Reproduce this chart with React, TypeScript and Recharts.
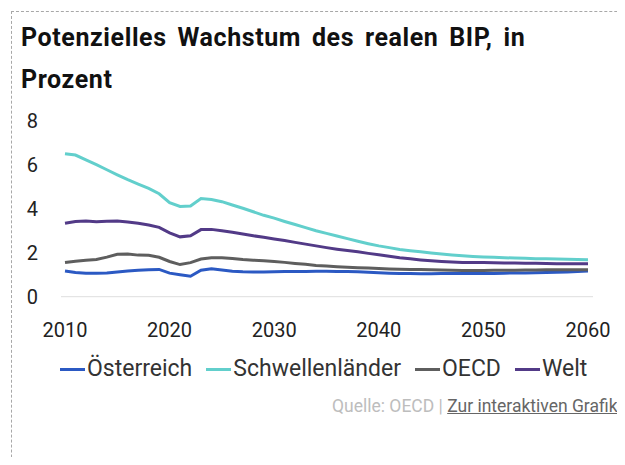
import { LineChart, Line, XAxis, YAxis } from "recharts";

const years = [
  2010, 2011, 2012, 2013, 2014, 2015, 2016, 2017, 2018, 2019,
  2020, 2021, 2022, 2023, 2024, 2025, 2026, 2027, 2028, 2029,
  2030, 2031, 2032, 2033, 2034, 2035, 2036, 2037, 2038, 2039,
  2040, 2041, 2042, 2043, 2044, 2045, 2046, 2047, 2048, 2049,
  2050, 2051, 2052, 2053, 2054, 2055, 2056, 2057, 2058, 2059, 2060,
];

const oesterreich = [
  1.17, 1.1, 1.07, 1.07, 1.08, 1.12, 1.17, 1.2, 1.22, 1.24,
  1.07, 1.0, 0.93, 1.2, 1.27, 1.21, 1.16, 1.13, 1.12, 1.12,
  1.13, 1.14, 1.14, 1.15, 1.16, 1.16, 1.15, 1.14, 1.13, 1.11,
  1.09, 1.07, 1.06, 1.05, 1.04, 1.04, 1.05, 1.06, 1.06, 1.06,
  1.06, 1.06, 1.07, 1.08, 1.08, 1.09, 1.1, 1.11, 1.12, 1.15, 1.17,
];

const schwellenlaender = [
  6.5, 6.44, 6.22, 6.0, 5.77, 5.54, 5.32, 5.12, 4.92, 4.68,
  4.27, 4.1, 4.12, 4.46, 4.42, 4.32, 4.17, 4.02, 3.86, 3.7,
  3.57, 3.42, 3.28, 3.14, 3.0, 2.88, 2.76, 2.64, 2.52, 2.41,
  2.31, 2.23, 2.15, 2.09, 2.04, 1.99, 1.94, 1.9, 1.86, 1.83,
  1.81, 1.79, 1.77, 1.76, 1.75, 1.73, 1.72, 1.71, 1.7, 1.69, 1.68,
];

const oecd = [
  1.55, 1.61, 1.66, 1.69, 1.8, 1.93, 1.94, 1.89, 1.88, 1.79,
  1.6, 1.46, 1.55, 1.71, 1.77, 1.77, 1.74, 1.69, 1.66, 1.63,
  1.6, 1.56, 1.51, 1.47, 1.42, 1.39, 1.36, 1.34, 1.32, 1.3,
  1.28, 1.26, 1.25, 1.24, 1.24, 1.23, 1.21, 1.2, 1.19, 1.19,
  1.19, 1.2, 1.2, 1.2, 1.21, 1.21, 1.22, 1.22, 1.23, 1.23, 1.23,
];

const welt = [
  3.34, 3.42, 3.44, 3.41, 3.43, 3.44, 3.4, 3.34, 3.26, 3.15,
  2.9, 2.72, 2.77, 3.05, 3.06, 3.0, 2.93, 2.85, 2.77, 2.7,
  2.62, 2.55, 2.47, 2.39, 2.31, 2.23, 2.16, 2.1, 2.04, 1.97,
  1.91, 1.84, 1.77, 1.72, 1.67, 1.63, 1.6, 1.58, 1.56, 1.55,
  1.55, 1.54, 1.53, 1.53, 1.52, 1.52, 1.51, 1.5, 1.5, 1.5, 1.5,
];

const xTicks = [2010, 2020, 2030, 2040, 2050, 2060];
const yTicks = [0, 2, 4, 6, 8];

const series = [
  { key: "oesterreich", name: "Österreich", color: "#2b59c3" },
  { key: "schwellen", name: "Schwellenländer", color: "#62cfcc" },
  { key: "oecd", name: "OECD", color: "#5e5e5e" },
  { key: "welt", name: "Welt", color: "#523a87" },
];

const data = years.map((year, i) => ({
  year,
  oesterreich: oesterreich[i],
  schwellen: schwellenlaender[i],
  oecd: oecd[i],
  welt: welt[i],
}));

const font = "Roboto, 'DejaVu Sans', sans-serif";

export default function App() {
  return (
    <div style={{ position: "relative", width: 625, height: 465, margin: -8, overflow: "hidden", background: "#fff", fontFamily: font }}>
      <div
        style={{
          position: "absolute",
          left: 11,
          top: 11,
          width: 700,
          height: 600,
          borderTop: "1px dashed #a8a8a8",
          borderLeft: "1px dashed #a8a8a8",
        }}
      />
      <div
        style={{
          position: "absolute",
          left: 21,
          top: 17,
          fontSize: 25,
          lineHeight: "41.6px",
          fontWeight: 700,
          letterSpacing: 0.6,
          wordSpacing: 4,
          color: "#111",
          whiteSpace: "nowrap",
        }}
      >
        Potenzielles Wachstum des realen BIP, in
        <br />
        Prozent
      </div>

      <div style={{ position: "absolute", left: 0, top: 0 }}>
        <LineChart width={625} height={465} data={data} margin={{ top: 120.7, right: 32, left: 0, bottom: 128.3 }}>
          <XAxis
            dataKey="year"
            type="number"
            domain={[2010, 2060]}
            ticks={xTicks}
            padding={{ left: 4, right: 5 }}
            height={40}
            axisLine={{ stroke: "#dedede", strokeWidth: 1 }}
            tickLine={false}
            tickSize={0}
            tickMargin={26}
            tick={{ fill: "#222", fontSize: 20, fontFamily: font }}
          />
          <YAxis
            domain={[0, 8]}
            ticks={yTicks}
            width={61}
            axisLine={false}
            tickLine={false}
            tickSize={0}
            tickMargin={23}
            tick={{ fill: "#222", fontSize: 20, fontFamily: font }}
          />
          {series.map((s) => (
            <Line
              key={s.key}
              type="linear"
              dataKey={s.key}
              name={s.name}
              stroke={s.color}
              strokeWidth={3}
              dot={false}
              isAnimationActive={false}
            />
          ))}
        </LineChart>
      </div>

      <div
        style={{
          position: "absolute",
          left: 60,
          top: 357,
          display: "flex",
          fontSize: 23,
          lineHeight: "24px",
          color: "#333",
          whiteSpace: "nowrap",
        }}
      >
        {series.map((s) => (
          <div key={s.key} style={{ display: "flex", alignItems: "center", marginRight: 14 }}>
            <span style={{ display: "inline-block", width: 25, height: 3, background: s.color, marginRight: 2 }} />
            <span>{s.name}</span>
          </div>
        ))}
      </div>

      <div
        style={{
          position: "absolute",
          left: 332,
          top: 397,
          fontSize: 17.5,
          lineHeight: "19px",
          color: "#bdbdbd",
          whiteSpace: "nowrap",
        }}
      >
        Quelle: OECD |{" "}
        <span style={{ color: "#666", textDecoration: "underline" }}>Zur interaktiven Grafik</span>
      </div>
    </div>
  );
}
